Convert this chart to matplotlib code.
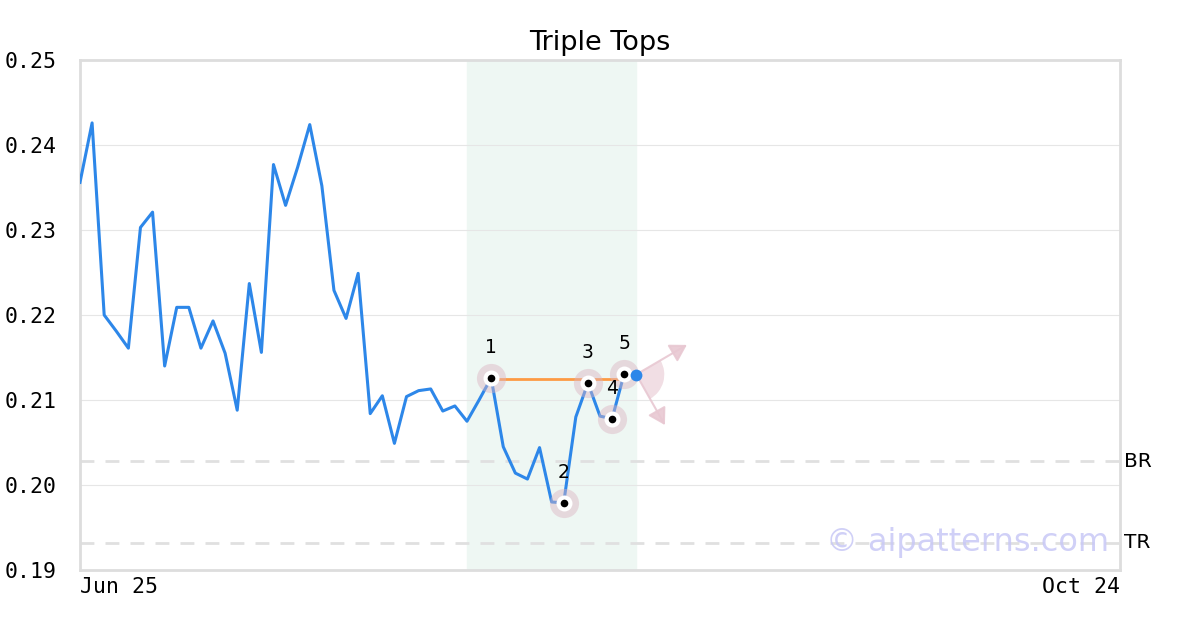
"""Triple Tops pattern chart with pivot markers and breakout arrows"""

import matplotlib
matplotlib.use('Agg')
import matplotlib.pyplot as plt
from matplotlib.patches import Wedge, FancyArrowPatch

# closing prices, one per trading day from Jun 25
prices = [0.2356, 0.2426, 0.2200, 0.2181, 0.2161, 0.2303, 0.2321, 0.2140, 0.2209, 0.2209,
          0.2161, 0.2193, 0.2155, 0.2088, 0.2237, 0.2156, 0.2377, 0.2329, 0.2374, 0.2424,
          0.2352, 0.2229, 0.2196, 0.2249, 0.2084, 0.2105, 0.2049, 0.2104, 0.2111, 0.2113,
          0.2087, 0.2093, 0.2075, 0.2100, 0.2126, 0.2045, 0.2014, 0.2007, 0.2044, 0.1980,
          0.1979, 0.2080, 0.2120, 0.2081, 0.2078, 0.2131]
last_idx = 46
last_price = 0.2130

# pattern pivots (index, price, label)
pivot_idx = [34, 40, 42, 44, 45]
pivot_val = [0.2126, 0.1979, 0.2120, 0.2078, 0.2131]
pivot_lbl = ['1', '2', '3', '4', '5']

resist_idx = [34, 45]
resist_val = 0.2125
pattern_span = (32, 46)

br_level = 0.2028
tr_level = 0.1932

n_days = 86
yticks = [0.19, 0.20, 0.21, 0.22, 0.23, 0.24, 0.25]
xtick_lbl = ['Jun 25', 'Oct 24']

fig = plt.figure(figsize=(12, 6.3), dpi=100)
ax = fig.add_axes([80/1200, 60/630, 1040/1200, 510/630])

ax.set_xlim(0, n_days)
ax.set_ylim(0.19, 0.25)

#pattern zone
ax.axvspan(pattern_span[0], pattern_span[1], color='#eef7f3', zorder=0)

#grid
ax.set_yticks(yticks)
ax.yaxis.grid(True, color='#e6e6e6', linewidth=0.8, zorder=1)
for s in ax.spines.values():
    s.set_color('#dddddd')
    s.set_linewidth(2)

#BR / TR levels
ax.axhline(br_level, color='#e0e0e0', linestyle=(0, (5, 4)), linewidth=2, zorder=1)
ax.axhline(tr_level, color='#e0e0e0', linestyle=(0, (5, 4)), linewidth=2, zorder=1)
ax.text(1.004, br_level, 'BR', transform=ax.get_yaxis_transform(), va='center', ha='left',
        fontsize=14.5, fontfamily='DejaVu Sans')
ax.text(1.004, tr_level, 'TR', transform=ax.get_yaxis_transform(), va='center', ha='left',
        fontsize=14.5, fontfamily='DejaVu Sans')

#price line
ax.plot(range(len(prices)), prices, color='#2d87e9', linewidth=2.2, zorder=3)

#resistance line
ax.plot(resist_idx, [resist_val, resist_val], color='#fd9a44', linewidth=2, zorder=4)

#pivot markers
ax.scatter(pivot_idx, pivot_val, s=21**2, color='#dcb4c2', alpha=0.45, linewidths=0, zorder=5)
ax.scatter(pivot_idx, pivot_val, s=11.5**2, color='white', linewidths=0, zorder=6)
ax.scatter(pivot_idx, pivot_val, s=5.5**2, color='black', linewidths=0, zorder=7)
for i, v, t in zip(pivot_idx, pivot_val, pivot_lbl):
    ax.annotate(t, (i, v), xytext=(0, 22), textcoords='offset points', ha='center',
                va='center', fontsize=13.5, zorder=8)

#last price dot
ax.scatter([last_idx], [last_price], s=8.5**2, color='#2d87e9', linewidths=0, zorder=8)

#breakout arrows and wedge (drawn in pixel offsets around the last point)
cx, cy = ax.transData.transform((last_idx, last_price))
ax.add_patch(Wedge((cx, cy), 28, -61, 30, transform=None, color='#e8c8d2', alpha=0.6,
                   linewidth=0, zorder=2))
for dx, dy in [(53, 31), (30, -53)]:
    ax.add_patch(FancyArrowPatch((cx, cy), (cx + dx, cy + dy), transform=None,
                                 arrowstyle='-|>,head_length=10,head_width=6',
                                 color='#e8c8d2', linewidth=1.5, alpha=0.9, zorder=2))

#watermark
ax.text(0.99, tr_level, '© aipatterns.com', transform=ax.get_yaxis_transform(),
        ha='right', va='center', fontsize=23, color='#c8c8f6', alpha=0.85, zorder=9)

#ticks
ax.tick_params(length=0)
ax.set_yticklabels(['%.2f' % v for v in yticks], fontfamily='DejaVu Sans Mono', fontsize=15.5)
ax.tick_params(axis='y', pad=16.5)
ax.set_xticks([0, n_days])
xl = ax.set_xticklabels(xtick_lbl, fontfamily='DejaVu Sans Mono', fontsize=15.5)
xl[0].set_ha('left')
xl[1].set_ha('right')
ax.tick_params(axis='x', pad=5)

ax.set_title('Triple Tops', fontsize=19.5, pad=7)

fig.savefig('out.png', dpi=100)
